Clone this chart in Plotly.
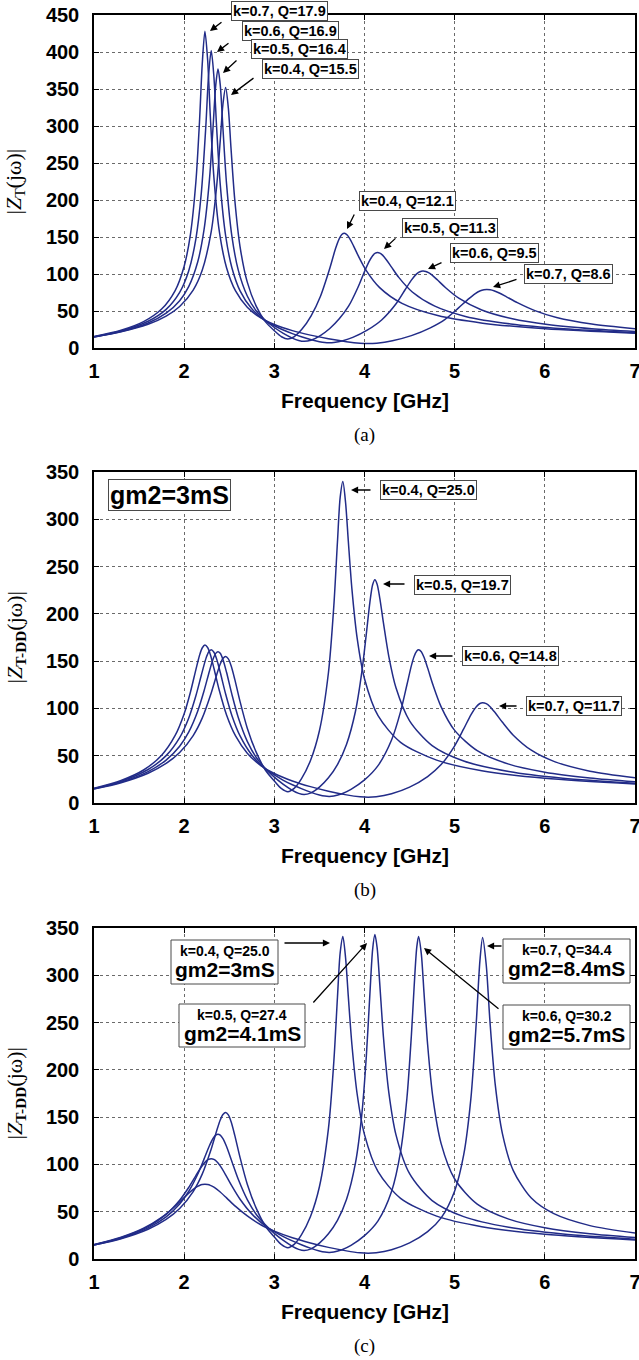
import plotly.graph_objects as go

# ---------------- data ----------------
# frequency grids (GHz), one per coupling coefficient k (panels b and c)
F_K04 = [1.0, 1.3, 1.6, 1.8, 1.95, 2.1, 2.2, 2.3, 2.36, 2.40, 2.43, 2.46, 2.49, 2.52, 2.56, 2.62, 2.7, 2.8, 2.9, 3.0,
         3.08, 3.15, 3.22, 3.3, 3.4, 3.5, 3.6, 3.66, 3.70, 3.73, 3.76, 3.79, 3.82, 3.86, 3.92, 4.0, 4.15, 4.4, 4.8,
         5.3, 6.0, 7.0]
F_K05 = [1.0, 1.3, 1.6, 1.8, 1.95, 2.05, 2.15, 2.22, 2.28, 2.32, 2.35, 2.375, 2.40, 2.43, 2.47, 2.53, 2.6, 2.7, 2.8,
         2.9, 3.0, 3.1, 3.2, 3.27, 3.33, 3.4, 3.5, 3.6, 3.7, 3.8, 3.9, 3.97, 4.02, 4.06, 4.09, 4.115, 4.14, 4.17, 4.21,
         4.27, 4.35, 4.5, 4.75, 5.1, 5.6, 6.2, 7.0]
F_K06 = [1.0, 1.3, 1.6, 1.8, 1.95, 2.05, 2.13, 2.19, 2.24, 2.27, 2.30, 2.33, 2.36, 2.40, 2.46, 2.53, 2.62, 2.75, 2.9,
         3.0, 3.1, 3.2, 3.3, 3.4, 3.5, 3.56, 3.61, 3.66, 3.75, 3.85, 4.0, 4.15, 4.3, 4.4, 4.47, 4.52, 4.55, 4.58, 4.60,
         4.63, 4.66, 4.70, 4.76, 4.85, 5.0, 5.25, 5.6, 6.0, 6.5, 7.0]
F_K07 = [1.0, 1.3, 1.55, 1.75, 1.9, 2.0, 2.07, 2.13, 2.17, 2.20, 2.23, 2.26, 2.29, 2.33, 2.39, 2.47, 2.57, 2.7, 2.85,
         3.0, 3.2, 3.4, 3.6, 3.8, 3.95, 4.04, 4.13, 4.3, 4.5, 4.7, 4.85, 5.0, 5.1, 5.18, 5.24, 5.28, 5.31, 5.35, 5.39,
         5.45, 5.53, 5.65, 5.85, 6.1, 6.5, 7.0]

# frequency grids for panel (a) (upper peaks sit slightly higher there)
FA_K04 = [1.0, 1.3, 1.6, 1.8, 1.95, 2.1, 2.2, 2.3, 2.36, 2.40, 2.43, 2.46, 2.49, 2.52, 2.56, 2.62, 2.7, 2.8, 2.9, 3.0,
          3.08, 3.15, 3.222, 3.305, 3.408, 3.513, 3.616, 3.677, 3.718, 3.748, 3.778, 3.808, 3.838, 3.878, 3.938, 4.018,
          4.168, 4.416, 4.812, 5.31, 6.005, 7.0]
FA_K05 = [1.0, 1.3, 1.6, 1.8, 1.95, 2.05, 2.15, 2.22, 2.28, 2.32, 2.35, 2.375, 2.40, 2.43, 2.47, 2.53, 2.6, 2.7, 2.8,
          2.9, 3.0, 3.1, 3.2, 3.27, 3.33, 3.405, 3.51, 3.615, 3.72, 3.825, 3.928, 3.999, 4.05, 4.09, 4.12, 4.145, 4.17,
          4.20, 4.24, 4.30, 4.38, 4.53, 4.78, 5.12, 5.62, 6.21, 7.0]
FA_K06 = [1.0, 1.3, 1.6, 1.8, 1.95, 2.05, 2.13, 2.19, 2.24, 2.27, 2.30, 2.33, 2.36, 2.40, 2.46, 2.53, 2.62, 2.75, 2.9,
          3.0, 3.1, 3.2, 3.3, 3.4, 3.5, 3.56, 3.61, 3.66, 3.76, 3.87, 4.03, 4.19, 4.35, 4.45, 4.52, 4.57, 4.60, 4.63,
          4.65, 4.68, 4.71, 4.75, 4.81, 4.90, 5.05, 5.30, 5.64, 6.03, 6.52, 7.0]
FA_K07 = [1.0, 1.3, 1.55, 1.75, 1.9, 2.0, 2.07, 2.13, 2.17, 2.20, 2.23, 2.26, 2.29, 2.33, 2.39, 2.47, 2.57, 2.7, 2.85,
          3.0, 3.2, 3.4, 3.6, 3.8, 3.95, 4.04, 4.135, 4.31, 4.52, 4.73, 4.89, 5.04, 5.145, 5.225, 5.285, 5.325, 5.355,
          5.395, 5.435, 5.495, 5.575, 5.695, 5.89, 6.13, 6.52, 7.0]

# panel (a): |ZT(jw)|
ZA_K04 = [14.8, 21.8, 32.0, 43.0, 56.0, 78.2, 105.0, 157.3, 218.3, 279.9, 329.4, 352, 324.1, 269.1, 202.0, 136.7, 89.0,
          56.2, 35.6, 23.4, 15.2, 12.0, 15.5, 25.2, 43.5, 70.3, 108.0, 133.7, 147.2, 153.3, 155, 152.7, 147.5, 138.1,
          122.8, 104.9, 81.6, 60.3, 43.8, 33.6, 25.9, 19.9]
ZA_K05 = [15.0, 22.3, 33.8, 47.0, 63.9, 82.9, 116.2, 159.5, 226.9, 297.8, 354.8, 377, 356.0, 296.9, 221.8, 150.5, 105.2,
          70.2, 50.0, 37.5, 27.7, 19.8, 13.4, 10.2, 9.0, 10.4, 16.8, 26.3, 39.4, 56.8, 82.1, 102.9, 116.6, 124.7, 128.1,
          129, 128.2, 125.5, 119.7, 109.2, 95.4, 75.7, 56.5, 42.7, 32.5, 25.9, 20.7]
ZA_K06 = [15.3, 23.1, 36.1, 52.2, 75.2, 104.1, 147.6, 209.2, 299.3, 366.8, 402, 366.3, 297.9, 221.1, 151.7, 108.2, 77.3,
          52.9, 36.8, 30.1, 24.3, 19.4, 15.2, 11.5, 8.5, 7.3, 7.0, 7.4, 9.8, 14.3, 24.1, 37.9, 59.8, 78.7, 91.8, 99.2,
          102.1, 103.7, 104, 103.4, 101.8, 98.4, 91.8, 81.4, 66.9, 51.3, 39.4, 31.7, 26.0, 22.2]
ZA_K07 = [15.6, 24.0, 35.6, 52.6, 77.6, 110.5, 154.0, 224.6, 305.6, 382.6, 428, 389.8, 313.3, 230.2, 157.5, 108.5, 77.1,
          55.1, 40.6, 31.8, 23.5, 17.4, 12.5, 8.6, 6.5, 6.0, 6.5, 9.8, 16.7, 27.3, 38.4, 53.9, 65.4, 73.3, 77.3, 78.6,
          79, 78.6, 77.3, 74.3, 69.2, 61.3, 50.5, 41.2, 32.3, 26.0]

# panel (b): |ZT-DD(jw)|, gm2 = 3 mS
ZB_K04 = [14.8, 21.5, 31.5, 41.8, 53.3, 71.3, 89.7, 116.3, 135.4, 147.0, 152.9, 155, 152.4, 145.3, 131.2, 107.2, 79.1,
          53.5, 34.9, 23.3, 15.2, 12.0, 15.5, 25.5, 44.7, 76.4, 137.7, 208.7, 275.9, 322.9, 340, 317.7, 277.6, 226.7,
          173.2, 131.4, 92.3, 64.2, 45.3, 34.2, 26.2, 20.1]
ZB_K05 = [15.0, 22.1, 33.2, 45.4, 60.1, 75.0, 97.1, 118.4, 139.4, 152.0, 158.2, 160, 158.3, 151.8, 138.2, 114.6, 90.4,
          65.2, 48.1, 36.6, 27.3, 19.7, 13.4, 10.2, 9.0, 10.4, 16.8, 26.6, 40.6, 61.8, 97.0, 138.3, 178.6, 212.4, 230.7,
          236, 231.4, 216.4, 190.4, 154.8, 121.5, 86.9, 60.7, 44.4, 33.3, 26.2, 20.9]
ZB_K06 = [15.2, 22.9, 35.4, 50.1, 69.2, 89.7, 113.4, 135.1, 152.4, 159.4, 162, 159.4, 152.2, 138.2, 115.2, 92.3, 70.9,
          50.7, 36.0, 29.7, 24.0, 19.3, 15.2, 11.5, 8.5, 7.3, 7.0, 7.4, 9.8, 14.4, 24.4, 39.5, 66.6, 96.6, 124.8, 145.3,
          155.0, 160.8, 162, 159.9, 154.1, 142.9, 124.7, 101.7, 76.8, 55.4, 41.1, 32.6, 26.5, 22.5]
ZB_K07 = [15.5, 23.8, 34.9, 50.5, 71.4, 94.4, 117.4, 141.1, 156.0, 163.9, 167, 164.4, 157.0, 142.5, 118.9, 93.1, 70.9,
          52.7, 39.6, 31.2, 23.3, 17.3, 12.5, 8.6, 6.5, 6.0, 6.5, 9.8, 16.8, 28.0, 40.6, 60.5, 78.3, 93.3, 101.9, 105.2,
          106, 105.0, 102.1, 95.4, 85.3, 71.7, 55.8, 44.0, 33.6, 26.6]

# panel (c): |ZT-DD(jw)|, gm2 tuned per k
ZC_K04 = [14.8, 21.5, 31.5, 41.8, 53.3, 71.3, 89.7, 116.3, 135.4, 147.0, 152.9, 155, 152.4, 145.3, 131.2, 107.2, 79.1,
          53.5, 34.9, 23.3, 15.2, 12.0, 15.5, 25.5, 44.7, 76.4, 137.8, 209.0, 276.5, 323.6, 341, 318.5, 278.2, 227.1,
          173.4, 131.5, 92.3, 64.2, 45.3, 34.2, 26.2, 20.1]
ZC_K05 = [14.9, 22.0, 32.9, 44.6, 58.2, 71.4, 89.6, 105.6, 119.7, 127.4, 131.0, 132, 131.0, 127.3, 118.9, 102.9, 84.3,
          62.8, 47.1, 36.2, 27.1, 19.6, 13.4, 10.2, 9.0, 10.4, 16.8, 26.7, 40.9, 62.9, 101.6, 152.7, 213.8, 280.6, 327.2,
          343, 329.3, 289.9, 234.8, 176.0, 131.0, 90.2, 61.8, 44.8, 33.5, 26.4, 21.0]
ZC_K06 = [15.1, 22.6, 34.3, 47.2, 62.1, 75.6, 88.2, 97.3, 103.2, 105.3, 106, 105.3, 103.1, 98.4, 89.0, 77.1, 63.2,
          47.7, 34.9, 29.0, 23.7, 19.1, 15.1, 11.5, 8.5, 7.3, 7.0, 7.4, 9.8, 14.4, 24.7, 40.4, 71.4, 113.5, 169.7, 236.6,
          287.1, 330.0, 341, 322.7, 281.4, 226.8, 169.5, 122.0, 84.6, 58.1, 42.2, 33.1, 26.7, 22.7]
ZC_K07 = [15.3, 23.0, 32.5, 44.0, 55.8, 65.0, 71.3, 75.7, 77.7, 78.7, 79, 78.7, 77.9, 75.9, 71.6, 64.6, 55.6, 45.5,
          36.2, 29.5, 22.5, 17.0, 12.3, 8.6, 6.5, 6.0, 6.5, 9.8, 17.0, 28.9, 43.5, 72.0, 110.0, 169.9, 250.6, 315.2, 340,
          311.1, 253.1, 184.4, 132.4, 93.5, 64.4, 47.9, 35.3, 27.4]

X_TICKS = [1, 2, 3, 4, 5, 6, 7]
Y_RANGE_A = [0, 450]
Y_RANGE_BC = [0, 350]

LABELS_A = ["k=0.7, Q=17.9", "k=0.6, Q=16.9", "k=0.5, Q=16.4", "k=0.4, Q=15.5",
            "k=0.4, Q=12.1", "k=0.5, Q=11.3", "k=0.6, Q=9.5", "k=0.7, Q=8.6"]
LABELS_B = ["k=0.4, Q=25.0", "k=0.5, Q=19.7", "k=0.6, Q=14.8", "k=0.7, Q=11.7"]
LABELS_C = [("k=0.4, Q=25.0", "gm2=3mS"), ("k=0.5, Q=27.4", "gm2=4.1mS"),
            ("k=0.7, Q=34.4", "gm2=8.4mS"), ("k=0.6, Q=30.2", "gm2=5.7mS")]

# ---------------- layout helpers ----------------
W, H = 639, 1360
def px(x):
    return x / W
def py(y):
    return 1 - y / H

LINE = dict(color="#222c88", width=1.5)
SANS = "Liberation Sans, Arial, sans-serif"
SERIF = "Liberation Serif, Times New Roman, serif"

fig = go.Figure()
panels = [
    ("x", "y", [(FA_K04, ZA_K04), (FA_K05, ZA_K05), (FA_K06, ZA_K06), (FA_K07, ZA_K07)]),
    ("x2", "y2", [(F_K04, ZB_K04), (F_K05, ZB_K05), (F_K06, ZB_K06), (F_K07, ZB_K07)]),
    ("x3", "y3", [(F_K04, ZC_K04), (F_K05, ZC_K05), (F_K06, ZC_K06), (F_K07, ZC_K07)]),
]
for xa, ya, curves in panels:
    for f, z in curves:
        fig.add_trace(go.Scatter(x=f, y=z, mode="lines", line=dict(shape="spline", smoothing=0.8, **LINE),
                                 xaxis=xa, yaxis=ya, showlegend=False, hoverinfo="skip"))

# plot-area pixel boxes (left, top, right, bottom)
BOX = {"a": (94, 15, 635, 348), "b": (94, 472, 635, 803), "c": (94, 928, 635, 1259)}

TICKFONT = dict(family=SANS, size=20, color="black", weight="bold")

def xaxis_cfg(anchor):
    return dict(range=[1, 7], tickvals=X_TICKS, showgrid=True, griddash="dot", gridcolor="#6a6a6a", gridwidth=1,
                showline=True, linecolor="black", linewidth=1.5, mirror="ticks", ticks="inside", ticklen=5,
                tickcolor="black", tickwidth=1.2, zeroline=False, anchor=anchor, automargin=False,
                ticklabeloverflow="allow", tickfont=TICKFONT, ticklabelstandoff=4, domain=[px(94), px(635)])

def yaxis_cfg(anchor, rng, box):
    l, t, r, b = box
    return dict(range=rng, dtick=50, showgrid=True, griddash="dot", gridcolor="#6a6a6a", gridwidth=1,
                showline=True, linecolor="black", linewidth=1.5, mirror="ticks", ticks="inside", ticklen=5,
                tickcolor="black", tickwidth=1.2, zeroline=False, anchor=anchor, automargin=False,
                ticklabeloverflow="allow", tickfont=TICKFONT, ticklabelstandoff=9, domain=[py(b), py(t)])

fig.update_layout(
    width=W, height=H, margin=dict(l=0, r=0, t=0, b=0, autoexpand=False),
    paper_bgcolor="white", plot_bgcolor="white",
    xaxis=xaxis_cfg("y"), yaxis=yaxis_cfg("x", Y_RANGE_A, BOX["a"]),
    xaxis2=xaxis_cfg("y2"), yaxis2=yaxis_cfg("x2", Y_RANGE_BC, BOX["b"]),
    xaxis3=xaxis_cfg("y3"), yaxis3=yaxis_cfg("x3", Y_RANGE_BC, BOX["c"]),
)

ann = []
shapes = []
def text(x, y, s, size, family=SANS, angle=0, **kw):
    ann.append(dict(x=px(x), y=py(y), xref="paper", yref="paper", text=s, showarrow=False, textangle=angle,
                    font=dict(family=family, size=size, color="black"), xanchor="center", yanchor="middle", **kw))

def boxed(x, y, s, size):
    text(x, y, "<b>" + s + "</b>", size, bgcolor="white", bordercolor="#4a4a4a", borderwidth=1, borderpad=1)

def rect(x0, y0, x1, y1):
    shapes.append(dict(type="rect", xref="paper", yref="paper", x0=px(x0), x1=px(x1), y0=py(y1), y1=py(y0),
                       line=dict(color="#4a4a4a", width=1), fillcolor="white", layer="above"))

def arrow(tx, ty, hx, hy):
    ann.append(dict(x=px(hx), y=py(hy), xref="paper", yref="paper", ax=tx - hx, ay=ty - hy, axref="pixel",
                    ayref="pixel", text="", showarrow=True, arrowhead=2, arrowsize=1.1, arrowwidth=1.3,
                    arrowcolor="black", standoff=0, startstandoff=0))

# axis titles and captions
for key, cap, ytitle in [("a", "(a)", "|<i>Z</i><sub>T</sub>(jω)|"),
                         ("b", "(b)", "|<i>Z</i><sub><b>T-DD</b></sub>(jω)|"),
                         ("c", "(c)", "|<i>Z</i><sub><b>T-DD</b></sub>(jω)|")]:
    l, t, r, b = BOX[key]
    text((l + r) / 2, b + 52, "<b>Frequency [GHz]</b>", 21)
    text((l + r) / 2, b + 87, cap, 19, family=SERIF)
    text(15, (t + b) / 2, ytitle, 22, family=SERIF, angle=-90)

# panel (a) annotations
a_boxes = [(279.5, 11), (290, 30.5), (299.5, 49.5), (310.5, 68.5), (407.5, 201), (449.5, 228.5), (494.5, 253),
           (568.5, 273.5)]
a_arrows = [(223, 21, 210, 31), (230, 42, 217, 52), (238, 59, 223, 73), (255, 77, 231, 95),
            (355, 213, 347, 229), (397, 237, 384, 249), (443, 262, 428, 269), (518, 279, 493, 287)]
for (bx, by), s in zip(a_boxes, LABELS_A):
    boxed(bx, by, s, 14.5)
for a in a_arrows:
    arrow(*a)

# panel (b) annotations
boxed(169, 495, "gm2=3mS", 25)
b_boxes = [(428.5, 490), (462, 584.5), (510, 656), (573.5, 706)]
b_arrows = [(372, 490, 351, 490), (406, 584, 383, 584), (454, 656, 429, 656), (518, 706, 499, 706)]
for (bx, by), s in zip(b_boxes, LABELS_B):
    boxed(bx, by, s, 14.5)
for a in b_arrows:
    arrow(*a)

# panel (c) annotations: two-line boxes drawn as a rectangle with two texts
c_rects = [(171, 940, 278, 984), (179, 1004, 305, 1047), (503, 939, 630, 983), (503, 1005, 630, 1049)]
c_arrows = [(283, 943, 330, 943), (312, 1004, 367, 943), (503, 946, 487, 946), (500, 1010, 424, 948)]
for (x0, y0, x1, y1), (s1, s2) in zip(c_rects, LABELS_C):
    rect(x0, y0, x1, y1)
    cx = (x0 + x1) / 2
    text(cx, y0 + 11, "<b>" + s1 + "</b>", 14)
    text(cx, y0 + 29, "<b>" + s2 + "</b>", 21)
for a in c_arrows:
    arrow(*a)

fig.update_layout(annotations=ann, shapes=shapes)
fig.write_html("out.html", config={"displayModeBar": False},
               post_script="document.body.style.margin='0';document.body.style.overflow='hidden';")
